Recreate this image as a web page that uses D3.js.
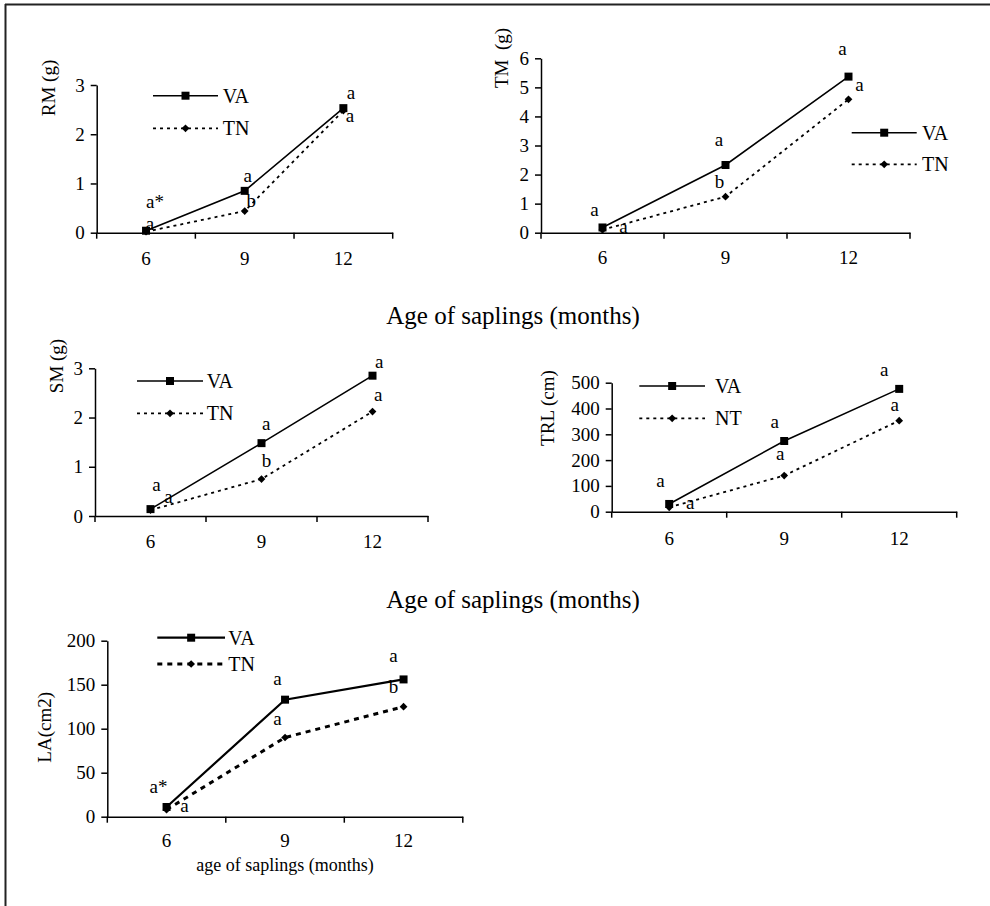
<!DOCTYPE html>
<html>
<head>
<meta charset="utf-8">
<script src="https://cdn.jsdelivr.net/npm/d3@7"></script>
<style>
  body { margin: 0; background: #fff; }
  text { font-family: "Liberation Serif", "Times New Roman", serif; fill: #000; }
</style>
</head>
<body>
<script>
// months after planting
let months = [6, 9, 12]

// root mass (g)
let rmVA = [0.04, 0.85, 2.53]
let rmTN = [0.02, 0.44, 2.48]
let rmVAsig = ['a*', 'a', 'a']
let rmTNsig = ['a', 'b', 'a']
let rmTicks = [0, 1, 2, 3]

// total mass (g)
let tmVA = [0.18, 2.33, 5.37]
let tmTN = [0.10, 1.24, 4.59]
let tmVAsig = ['a', 'a', 'a']
let tmTNsig = ['a', 'b', 'a']
let tmTicks = [0, 1, 2, 3, 4, 5, 6]

// shoot mass (g)
let smVA = [0.14, 1.48, 2.85]
let smTN = [0.12, 0.75, 2.12]
let smVAsig = ['a', 'a', 'a']
let smTNsig = ['a', 'b', 'a']
let smTicks = [0, 1, 2, 3]

// total root length (cm)
let trlVA = [30, 274, 476]
let trlNT = [17, 140, 353]
let trlVAsig = ['a', 'a', 'a']
let trlNTsig = ['a', 'a', 'a']
let trlTicks = [0, 100, 200, 300, 400, 500]

// leaf area (cm2)
let laVA = [11, 133, 156]
let laTN = [8, 90, 125]
let laVAsig = ['a*', 'a', 'a']
let laTNsig = ['a', 'a', 'b']
let laTicks = [0, 50, 100, 150, 200]

let w = 990
let h = 906

let svg = d3.select('body').append('svg').attr('width', w).attr('height', h)

// frame (top and left edge only, the rest is cropped)
svg.append('line').attr('x1', 5).attr('x2', w).attr('y1', 4.5).attr('y2', 4.5)
  .attr('stroke', '#222').attr('stroke-width', 2)
svg.append('line').attr('x1', 5.5).attr('x2', 5.5).attr('y1', 4).attr('y2', h)
  .attr('stroke', '#222').attr('stroke-width', 2)

let panels = [
  { title: 'RM (g)', va: rmVA, tn: rmTN, vaSig: rmVAsig, tnSig: rmTNsig, ticks: rmTicks, names: ['VA', 'TN'],
    x0: 96.7, x1: 392.7, yB: 232.7, yT: 85, titleX: 55, titleY: 88, xPad: 18.5,
    leg: { x0: 153, x1: 218, y: 95.7, dy: 32.6, tx: 222.7 },
    vaOff: [[9, -23], [3, -9], [7.7, -9]], tnOff: [[4, -2], [6.6, -4.3], [6.7, 11]] },
  { title: 'TM\u00a0 (g)', va: tmVA, tn: tmTN, vaSig: tmVAsig, tnSig: tmTNsig, ticks: tmTicks, names: ['VA', 'TN'],
    x0: 541, x1: 910, yB: 232.7, yT: 58.3, titleX: 508.3, titleY: 58, xPad: 17.5,
    leg: { x0: 851.7, x1: 916.7, y: 132.7, dy: 31.6, tx: 922 },
    vaOff: [[-8, -11.5], [-6.5, -19], [-6, -21.6]], tnOff: [[21, 3], [-6, -8.4], [11, -8.6]] },
  { title: 'SM (g)', va: smVA, tn: smTN, vaSig: smVAsig, tnSig: smTNsig, ticks: smTicks, names: ['VA', 'TN'],
    x0: 95, x1: 428, yB: 516, yT: 368.3, titleX: 63.3, titleY: 366, xPad: 18.5,
    leg: { x0: 137, x1: 203, y: 381, dy: 32.3, tx: 206.7 },
    vaOff: [[6, -18.4], [4.7, -13], [6.7, -8]], tnOff: [[18, -7.4], [5, -12.4], [5.7, -10.6]] },
  { title: 'TRL (cm)', va: trlVA, tn: trlNT, vaSig: trlVAsig, tnSig: trlNTsig, ticks: trlTicks, names: ['VA', 'NT'],
    x0: 611.7, x1: 956.7, yB: 511.7, yT: 382.7, titleX: 554.3, titleY: 408, xPad: 19.5,
    leg: { x0: 639.3, x1: 705, y: 386, dy: 32.3, tx: 715 },
    vaOff: [[-8.7, -17.3], [-9.5, -13.3], [-15, -13]], tnOff: [[21, 2], [-4, -15.6], [-4.5, -9.6]] },
  { title: 'LA(cm2)', va: laVA, tn: laTN, vaSig: laVAsig, tnSig: laTNsig, ticks: laTicks, names: ['VA', 'TN'],
    x0: 107.3, x1: 462.8, yB: 816.7, yT: 640.7, titleX: 51, titleY: 727.3, xPad: 16.5, thick: true,
    leg: { x0: 157.3, x1: 225, y: 637.7, dy: 26.3, tx: 228.3 },
    vaOff: [[-8, -14], [-7.5, -14.3], [-10, -17.3]], tnOff: [[18, 2], [-7.5, -12.5], [-10, -13.4]] }
]

let square = d3.symbol().type(d3.symbolSquare).size(64)
let diamond = d3.symbol().type(d3.symbolSquare).size(30)

panels.forEach(p => {
  let g = svg.append('g')
  let x = d3.scaleBand().domain(months).range([p.x0, p.x1]).padding(0)
  let y = d3.scaleLinear().domain([0, d3.max(p.ticks)]).range([p.yB, p.yT])
  let cx = m => x(m) + x.bandwidth() / 2

  let solidW = p.thick ? 2.2 : 1.6
  let dashW = p.thick ? 3 : 1.8
  let dash = p.thick ? '5,5' : '3,4'

  // axes
  let yAxis = d3.axisLeft(y).tickValues(p.ticks).tickFormat(d3.format('d'))
    .tickSize(6).tickPadding(6).tickSizeOuter(0)
  let ya = g.append('g').attr('transform', 'translate(' + p.x0 + ',0)').call(yAxis)
  ya.selectAll('text').style('font-size', '19px').style('font-family', '"Liberation Serif", serif')
  ya.selectAll('path, line').attr('stroke', '#000').attr('stroke-width', 1.5)

  let xAxis = d3.axisBottom(x).tickSize(0).tickPadding(p.xPad).tickSizeOuter(0)
  let xa = g.append('g').attr('transform', 'translate(0,' + p.yB + ')').call(xAxis)
  xa.selectAll('text').style('font-size', '19px').style('font-family', '"Liberation Serif", serif')
  xa.select('path').attr('stroke', '#000').attr('stroke-width', 1.5)
  // boundary ticks between categories
  let bounds = months.map(m => x(m)).concat([p.x1])
  g.selectAll('line.bt').data(bounds).enter().append('line')
    .attr('class', 'bt')
    .attr('x1', d => d).attr('x2', d => d)
    .attr('y1', p.yB).attr('y2', p.yB + 6)
    .attr('stroke', '#000').attr('stroke-width', 1.5)

  // y title
  g.append('text')
    .attr('transform', 'translate(' + p.titleX + ',' + p.titleY + ') rotate(-90)')
    .attr('text-anchor', 'middle')
    .style('font-size', '19px')
    .text(p.title)

  // significance letters (drawn under the lines)
  months.forEach((m, i) => {
    g.append('text').attr('x', cx(m) + p.vaOff[i][0]).attr('y', y(p.va[i]) + p.vaOff[i][1])
      .attr('text-anchor', 'middle').style('font-size', '19px').text(p.vaSig[i])
    g.append('text').attr('x', cx(m) + p.tnOff[i][0]).attr('y', y(p.tn[i]) + p.tnOff[i][1])
      .attr('text-anchor', 'middle').style('font-size', '19px').text(p.tnSig[i])
  })

  let line = d3.line().x((d, i) => cx(months[i])).y(d => y(d))

  g.append('path').datum(p.tn).attr('d', line)
    .attr('fill', 'none').attr('stroke', '#000').attr('stroke-width', dashW).attr('stroke-dasharray', dash)
  g.selectAll('path.dm').data(p.tn).enter().append('path').attr('class', 'dm')
    .attr('d', diamond)
    .attr('transform', (d, i) => 'translate(' + cx(months[i]) + ',' + y(d) + ') rotate(45)')

  g.append('path').datum(p.va).attr('d', line)
    .attr('fill', 'none').attr('stroke', '#000').attr('stroke-width', solidW)
  g.selectAll('path.sq').data(p.va).enter().append('path').attr('class', 'sq')
    .attr('d', square)
    .attr('transform', (d, i) => 'translate(' + cx(months[i]) + ',' + y(d) + ')')

  // legend
  let L = p.leg
  let mid = (L.x0 + L.x1) / 2
  g.append('line').attr('x1', L.x0).attr('x2', L.x1).attr('y1', L.y).attr('y2', L.y)
    .attr('stroke', '#000').attr('stroke-width', solidW)
  g.append('path').attr('d', square).attr('transform', 'translate(' + mid + ',' + L.y + ')')
  g.append('text').attr('x', L.tx).attr('y', L.y + 7).style('font-size', '20px').text(p.names[0])

  g.append('line').attr('x1', L.x0).attr('x2', L.x1).attr('y1', L.y + L.dy).attr('y2', L.y + L.dy)
    .attr('stroke', '#000').attr('stroke-width', dashW).attr('stroke-dasharray', dash)
  g.append('path').attr('d', diamond).attr('transform', 'translate(' + mid + ',' + (L.y + L.dy) + ') rotate(45)')
  g.append('text').attr('x', L.tx).attr('y', L.y + L.dy + 7).style('font-size', '20px').text(p.names[1])
})

// shared x titles
svg.append('text').attr('x', 513).attr('y', 324).attr('text-anchor', 'middle')
  .style('font-size', '25px').text('Age of saplings (months)')
svg.append('text').attr('x', 513).attr('y', 608).attr('text-anchor', 'middle')
  .style('font-size', '25px').text('Age of saplings (months)')
svg.append('text').attr('x', 285).attr('y', 871).attr('text-anchor', 'middle')
  .style('font-size', '18px').text('age of saplings (months)')
</script>
</body>
</html>
